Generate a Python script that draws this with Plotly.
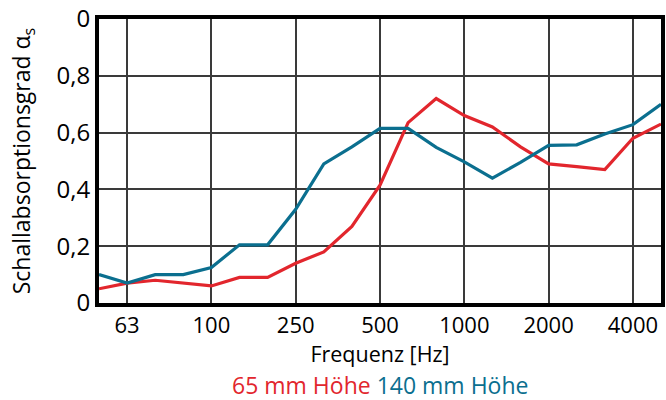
import plotly.graph_objects as go

bands = ["50", "63", "80", "100", "125", "160", "200", "250", "315", "400", "500",
         "630", "800", "1000", "1250", "1600", "2000", "2500", "3150", "4000", "5000"]
h65 = [0.05, 0.07, 0.08, 0.07, 0.06, 0.09, 0.09, 0.14, 0.18, 0.27, 0.415,
       0.635, 0.72, 0.66, 0.62, 0.55, 0.49, 0.48, 0.47, 0.58, 0.63]
h140 = [0.10, 0.07, 0.10, 0.10, 0.125, 0.205, 0.205, 0.33, 0.49, 0.55, 0.615,
        0.615, 0.548, 0.497, 0.44, 0.495, 0.555, 0.557, 0.595, 0.628, 0.70]
tick_bands = ["63", "125", "250", "500", "1000", "2000", "4000"]
tick_labels = ["63", "100", "250", "500", "1000", "2000", "4000"]
y_ticks = [0, 0.2, 0.4, 0.6, 0.8, 1.0]
y_labels = ["0", "0,2", "0,4", "0,6", "0,8", "0"]

RED = "#e2262d"
BLUE = "#0b6f8f"
FONT = "Open Sans"

fig = go.Figure()
fig.add_trace(go.Scatter(x=bands, y=h65, mode="lines", line=dict(color=RED, width=3.2),
                         name="65 mm Höhe"))
fig.add_trace(go.Scatter(x=bands, y=h140, mode="lines", line=dict(color=BLUE, width=3.2),
                         name="140 mm Höhe"))

fig.update_layout(
    width=666, height=400,
    margin=dict(l=99, r=1, t=19, b=97),
    paper_bgcolor="white", plot_bgcolor="white",
    showlegend=False,
    font=dict(family=FONT, color="black", size=20),
)
fig.update_xaxes(
    type="category", range=[0, 20],
    tickmode="array", tickvals=tick_bands, ticktext=tick_labels,
    tickfont=dict(size=22), ticks="", ticklen=0,
    showgrid=True, gridcolor="#3a3a3a", gridwidth=1.5,
    showline=True, linecolor="black", linewidth=4, mirror=True,
    title=dict(text="Frequenz [Hz]", font=dict(size=21.5), standoff=2),
    zeroline=False,
)
fig.update_yaxes(
    range=[0, 1],
    tickmode="array", tickvals=y_ticks, ticktext=y_labels,
    tickfont=dict(size=24), ticks="", ticklen=0,
    showgrid=True, gridcolor="#3a3a3a", gridwidth=1.5,
    showline=True, linecolor="black", linewidth=4, mirror=True,
    title=dict(text="Schallabsorptionsgrad α<sub>s</sub>", font=dict(size=23), standoff=20),
    zeroline=False,
)
fig.add_annotation(
    xref="paper", yref="paper", x=0.5, y=-0.29, yanchor="middle", xanchor="center",
    showarrow=False,
    text=f"<span style='color:{RED}'>65 mm Höhe</span> <span style='color:{BLUE}'>140 mm Höhe</span>",
    font=dict(size=23, family=FONT),
)
fig.write_html("out.html")
